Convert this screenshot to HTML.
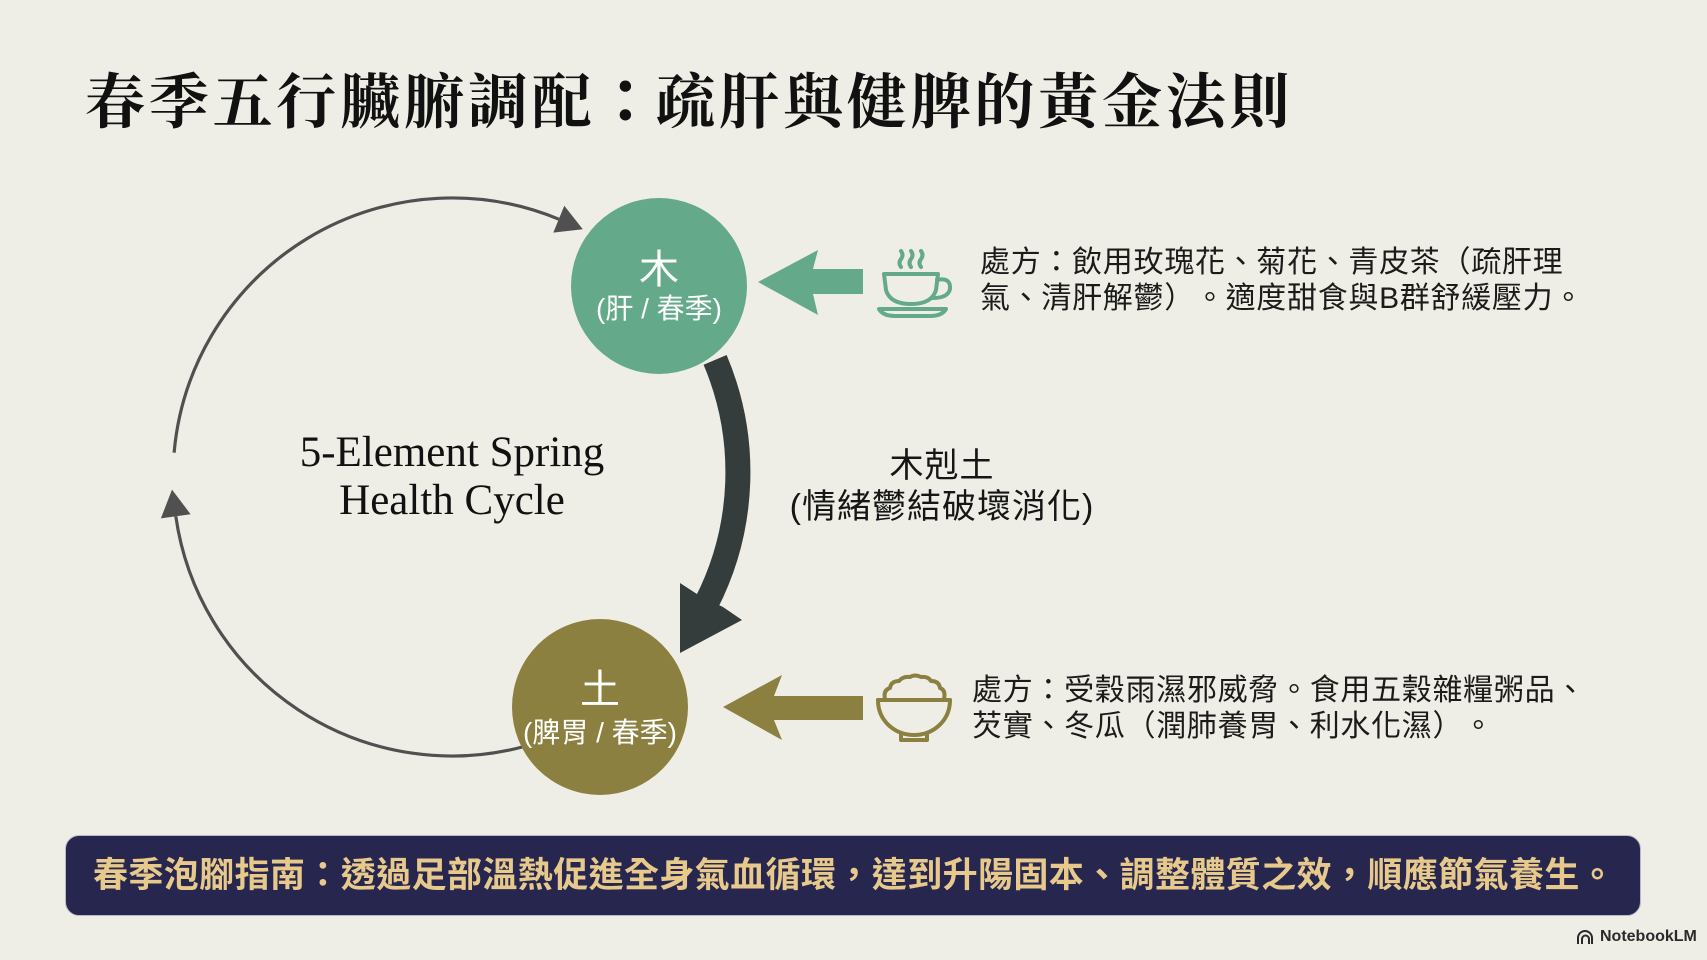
<!DOCTYPE html>
<html><head><meta charset="utf-8"><style>
html,body{margin:0;padding:0;}
body{width:1707px;height:960px;background:#efeee6;position:relative;overflow:hidden;font-family:"Liberation Sans","Noto Sans CJK TC",sans-serif;text-spacing-trim:space-all;font-feature-settings:"halt" 0,"chws" 0;}
.a{position:absolute;white-space:nowrap;}
.title{left:85px;top:68px;font-family:"Liberation Serif","Noto Serif CJK SC",serif;font-weight:700;font-size:60px;line-height:60px;letter-spacing:3.8px;color:#111;}
.colon{display:inline-block;width:60px;text-align:center;font-family:"Noto Sans CJK TC",sans-serif;font-weight:700;}
.cyc{left:252px;top:429px;width:400px;text-align:center;font-family:"Liberation Serif",serif;font-size:43px;line-height:48px;color:#111;}
.kk{left:742px;width:400px;text-align:center;font-size:34px;color:#161616;letter-spacing:1px;}
.rx{font-size:30px;line-height:36px;letter-spacing:0.7px;color:#1b1b1a;}
.cl{text-align:center;color:#fff;}
.banner{left:65px;top:835px;width:1576px;height:81px;background:#26264f;border-radius:14px;border:1px solid #b9b9c4;box-sizing:border-box;}
.btxt{left:93px;top:858px;font-size:35px;line-height:36px;letter-spacing:0.4px;color:#e8c98c;font-weight:700;}
.nlm{left:1600px;top:927px;font-size:16px;line-height:20px;color:#2a2a2a;font-weight:700;}
</style></head><body>

<svg class="a" style="left:0;top:0" width="1707" height="960" viewBox="0 0 1707 960">
  <path d="M174.1,452.7 A279,279 0 0 1 558.8,219.2" fill="none" stroke="#505050" stroke-width="3.2"/>
  <polygon points="582.8,229.2 564.3,205.8 553.3,232.6" fill="#505050"/>
  <path d="M524.2,746.5 A279,279 0 0 1 175.8,516.3" fill="none" stroke="#505050" stroke-width="3.2"/>
  <polygon points="172,489.6 160.9,518.4 190.6,514.2" fill="#505050"/>
  <path d="M715.1,359.9 A288,288 0 0 1 706,604" fill="none" stroke="#343c3c" stroke-width="25"/>
  <polygon points="700,596 680,583 680,653 742,620 723,607" fill="#343c3c"/>
  <circle cx="659" cy="286" r="88" fill="#63a98a"/>
  <circle cx="600" cy="707" r="88" fill="#8b8040"/>
  <polygon points="758,282 818,250 813,269 863,269 863,294 813,294 818,315" fill="#63a98a"/>
  <polygon points="723,707 782,675 774,696 863,696 863,720 774,720 782,740" fill="#8b8040"/>
  <g fill="none" stroke="#63a98a" stroke-width="4" stroke-linecap="round" stroke-linejoin="round">
    <path d="M901,267 q-3,-4 0,-8 q3,-4 0,-8"/>
    <path d="M911,267 q-3,-4 0,-8 q3,-4 0,-8"/>
    <path d="M921,267 q-3,-4 0,-8 q3,-4 0,-8"/>
    <path d="M884,274 L938,274 L936,290 Q932,304 911,304 Q890,304 886,290 Z"/>
    <path d="M937,280 Q951,277 950,289 Q948,298 933,298"/>
    <path d="M879,309 L946,309 Q942,316 930,316 L895,316 Q883,316 879,309 Z"/>
  </g>
  <g fill="none" stroke="#8b8040" stroke-width="4" stroke-linecap="round" stroke-linejoin="round">
    <path d="M885,699 Q883,690 890,688 Q891,681 899,681 Q903,676 910,677 Q915,674 921,677 Q928,676 931,681 Q939,681 940,688 Q946,690 944,699"/>
    <path d="M878,700 L950,700"/>
    <path d="M878,700 C878,721 895,735 914,735 C933,735 950,721 950,700"/>
    <path d="M901,735 L901,740 L927,740 L927,735"/>
  </g>
  <g fill="none" stroke="#2a2a2a" stroke-width="2">
    <path d="M1578,944 L1578,938 A7,7 0 0 1 1592,938 L1592,944"/>
    <path d="M1582,944 L1582,939 A3.5,3.5 0 0 1 1589,939 L1589,944"/>
  </g>
</svg>

<div class="a title">春季五行臟腑調配<span class="colon">：</span>疏肝與健脾的黃金法則</div>

<div class="a cyc">5-Element Spring<br>Health Cycle</div>

<div class="a kk" style="top:449px;line-height:34px;">木剋土</div>
<div class="a kk" style="top:490px;line-height:34px;">(情緒鬱結破壞消化)</div>

<div class="a cl" style="left:579px;top:250px;width:160px;font-size:40px;line-height:40px;">木</div>
<div class="a cl" style="left:559px;top:295px;width:200px;font-size:28px;line-height:28px;">(肝 / 春季)</div>

<div class="a cl" style="left:520px;top:670px;width:160px;font-size:40px;line-height:40px;">土</div>
<div class="a cl" style="left:500px;top:719px;width:200px;font-size:28px;line-height:28px;">(脾胃 / 春季)</div>

<div class="a rx" style="left:980px;top:245px;">處方：飲用玫瑰花、菊花、青皮茶（疏肝理<br>氣、清肝解鬱）。適度甜食與B群舒緩壓力。</div>

<div class="a rx" style="left:972px;top:673px;">處方：受穀雨濕邪威脅。食用五穀雜糧粥品、<br>芡實、冬瓜（潤肺養胃、利水化濕）。</div>

<div class="a banner"></div>
<div class="a btxt">春季泡腳指南：透過足部溫熱促進全身氣血循環，達到升陽固本、調整體質之效，順應節氣養生。</div>

<div class="a nlm">NotebookLM</div>
</body></html>
